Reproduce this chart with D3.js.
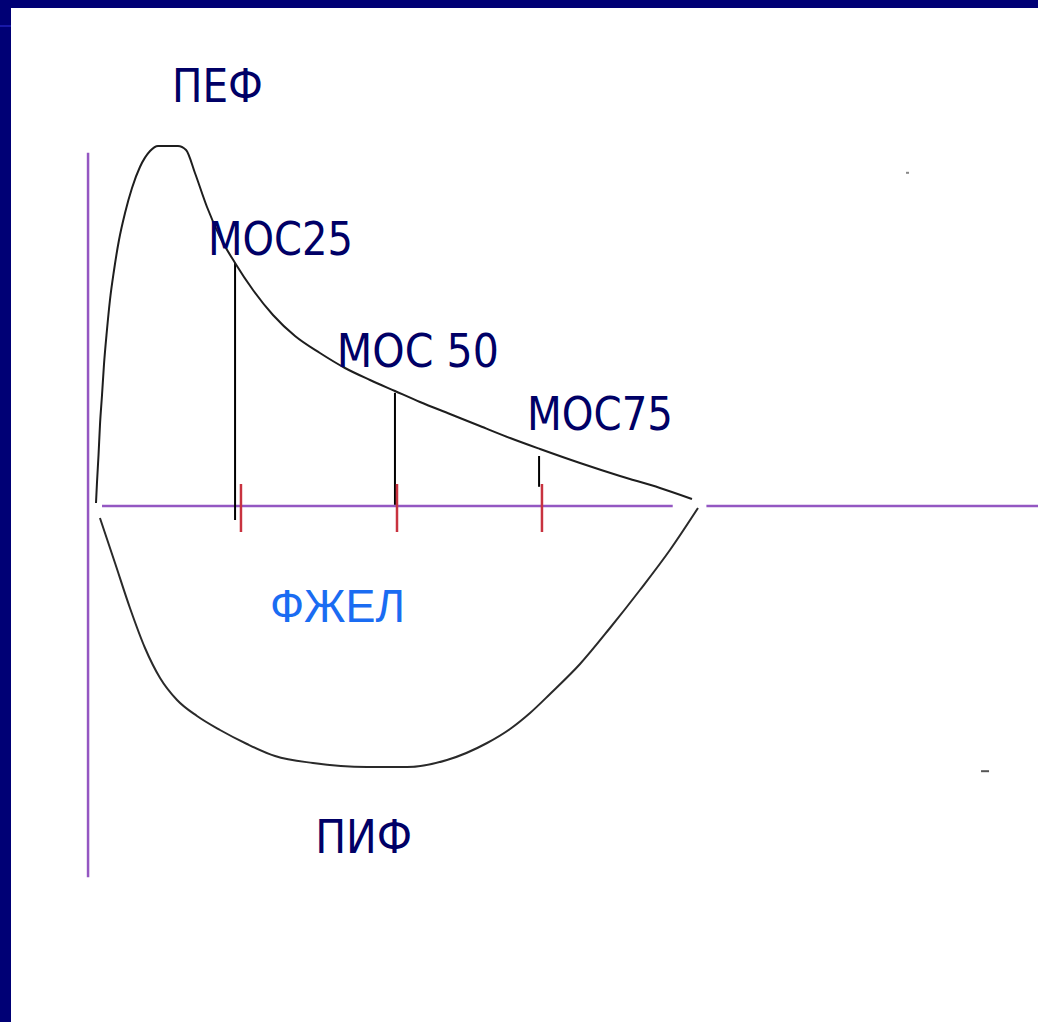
<!DOCTYPE html>
<html>
<head>
<meta charset="utf-8">
<script src="https://d3js.org/d3.v7.min.js"></script>
<style>
    html, body { margin: 0; padding: 0; background: #000075; }
    svg { display: block; }
</style>
</head>
<body>
<svg id="loop" width="1038" height="1022"></svg>
<script>
// volume in litres, flow in litres per second
const expVolume = [0, 0.008, 0.021, 0.033, 0.050, 0.066, 0.091, 0.116, 0.150, 0.191, 0.241, 0.299, 0.365, 0.449, 0.515, 0.681, 0.748, 0.822, 0.922, 1.030, 1.155, 1.304, 1.470, 1.653, 1.860, 2.068, 2.276, 2.483, 2.691, 2.940, 3.189, 3.439, 3.688, 4.020, 4.352, 4.684, 4.950];
const expFlow   = [0.075, 0.575, 1.275, 2.025, 2.775, 3.525, 4.4, 5.15, 5.9, 6.65, 7.325, 7.95, 8.475, 8.875, 9.0, 9.0, 8.9, 8.325, 7.475, 6.725, 6.075, 5.4, 4.775, 4.25, 3.825, 3.45, 3.15, 2.875, 2.6, 2.3, 2.0, 1.7, 1.425, 1.075, 0.75, 0.45, 0.175];

const inspVolume = [0.033, 0.158, 0.282, 0.407, 0.532, 0.673, 0.839, 1.030, 1.254, 1.487, 1.802, 2.251, 2.583, 2.915, 3.248, 3.439, 3.605, 3.771, 4.020, 4.269, 4.518, 4.767, 5.0];
const inspFlow   = [-0.3, -1.425, -2.55, -3.55, -4.3, -4.85, -5.25, -5.6, -5.95, -6.25, -6.425, -6.525, -6.525, -6.35, -5.925, -5.575, -5.175, -4.7, -3.95, -3.05, -2.1, -1.1, -0.05];

// МОС marks: volume, top and bottom of the black drop line
const mocVolume = [1.155, 2.483, 3.68];
const mocTop    = [6.08, 2.83, 1.25];
const mocBottom = [-0.35, 0.03, 0.48];

// red ticks on the volume axis
const tickVolume = [1.204, 2.5, 3.704];

// axis extents
const flowAxisVolume = -0.066;
const flowAxisRange = [8.83, -9.28];
const volumeAxisParts = [[0.05, 4.79], [5.07, 7.9]];

// labels
const labelText   = ["ПЕФ", "МОС25", "МОС 50", "МОС75", "ФЖЕЛ", "ПИФ"];
const labelVolume = [0.631, 0.93, 2.0, 3.58, 1.445, 1.82];
const labelFlow   = [10.1, 6.28, 3.48, 1.9, -2.9, -8.68];
const labelWidth  = [91, 145, 162, 146, 135, 97];

// stray marks in the scan
const speckVolume = [6.736, 7.384];
const speckFlow   = [8.33, -6.63];

const svg = d3.select("svg#loop");
const width = +svg.attr("width");
const height = +svg.attr("height");

const volScale = d3.scaleLinear().domain([0, 5]).range([96, 698]);
const flowScale = d3.scaleLinear().domain([0, 9]).range([506, 146]);

// frame: navy border on top and left
svg.append("rect").attr("x", 0).attr("y", 0).attr("width", width).attr("height", height).attr("fill", "#000075");
svg.append("rect").attr("x", 11).attr("y", 8).attr("width", width - 11).attr("height", height - 8).attr("fill", "#ffffff");
svg.append("rect").attr("x", 0).attr("y", 25).attr("width", 11).attr("height", 2).attr("fill", "#1818a8");

let axes = svg.append("g").attr("id", "axes");

axes.append("line")
    .attr("x1", volScale(flowAxisVolume)).attr("x2", volScale(flowAxisVolume))
    .attr("y1", flowScale(flowAxisRange[0])).attr("y2", flowScale(flowAxisRange[1]))
    .attr("stroke", "#9457c2").attr("stroke-width", 2.5);

volumeAxisParts.forEach(p => {
    axes.append("line")
        .attr("x1", volScale(p[0])).attr("x2", volScale(p[1]))
        .attr("y1", flowScale(0)).attr("y2", flowScale(0))
        .attr("stroke", "#9457c2").attr("stroke-width", 2.5);
});

// black drop lines for МОС25/50/75
mocVolume.forEach((v, i) => {
    axes.append("line")
        .attr("x1", volScale(v)).attr("x2", volScale(v))
        .attr("y1", flowScale(mocTop[i])).attr("y2", flowScale(mocBottom[i]))
        .attr("stroke", "#000").attr("stroke-width", 2);
});

tickVolume.forEach(v => {
    axes.append("line")
        .attr("x1", volScale(v)).attr("x2", volScale(v))
        .attr("y1", flowScale(0.55)).attr("y2", flowScale(-0.65))
        .attr("stroke", "#c8323f").attr("stroke-width", 2.5);
});

// loop curves
const line = d3.line()
    .x(d => volScale(d[0]))
    .y(d => flowScale(d[1]))
    .curve(d3.curveMonotoneX);

svg.append("path")
    .attr("d", line(d3.zip(expVolume, expFlow)))
    .attr("fill", "none").attr("stroke", "#1e1e1e").attr("stroke-width", 2);

svg.append("path")
    .attr("d", line(d3.zip(inspVolume, inspFlow)))
    .attr("fill", "none").attr("stroke", "#2a2a2a").attr("stroke-width", 2);

// stray specks
svg.append("rect").attr("x", volScale(speckVolume[0]) - 1).attr("y", flowScale(speckFlow[0]) - 1)
    .attr("width", 3).attr("height", 2).attr("fill", "#888");
svg.append("rect").attr("x", volScale(speckVolume[1]) - 4).attr("y", flowScale(speckFlow[1]) - 1)
    .attr("width", 8).attr("height", 2).attr("fill", "#555");

// labels
labelText.forEach((t, i) => {
    const isFvc = t === "ФЖЕЛ";
    svg.append("text")
        .attr("x", volScale(labelVolume[i]))
        .attr("y", flowScale(labelFlow[i]))
        .attr("font-family", isFvc ? "Liberation Sans, Arial, sans-serif" : "DejaVu Sans, Verdana, sans-serif")
        .attr("font-size", 47)
        .attr("fill", isFvc ? "#1a6cf2" : "#000066")
        .attr("textLength", labelWidth[i])
        .attr("lengthAdjust", "spacingAndGlyphs")
        .text(t);
});
</script>
</body>
</html>
